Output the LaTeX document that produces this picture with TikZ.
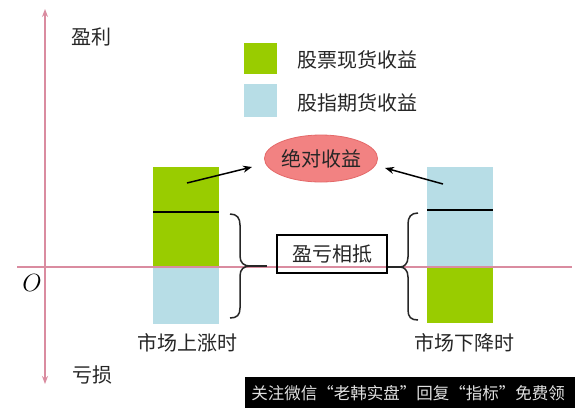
\documentclass[tikz,border=0pt]{standalone}
\usepackage{fontspec}
\newfontfamily\cjk{Noto Sans CJK SC}
\usetikzlibrary{arrows.meta,shapes.geometric}
\definecolor{bargreen}{RGB}{153,204,0}
\definecolor{barblue}{RGB}{183,221,230}
\definecolor{axispink}{RGB}{218,140,160}
\definecolor{ellfill}{RGB}{242,130,130}
\definecolor{elldraw}{RGB}{228,105,105}
\tikzset{
  lbl/.style={font=\cjk\fontsize{20}{22}\selectfont, inner sep=0pt, text=black!85},
  axisline/.style={draw=axispink, line width=1.4pt},
  pointer/.style={draw=black, line width=1.5pt, -{Stealth[length=9pt,width=7pt]}},
  bracestyle/.style={draw=black!85, line width=1.5pt},
  barline/.style={draw=black, line width=1.6pt},
}
\begin{document}
\begin{tikzpicture}[x=1pt,y=-1pt]
\useasboundingbox (0,0) rectangle (575,408);
\fill[white] (0,0) rectangle (575,408);

% bars
\fill[bargreen] (153,167) rectangle (219,267);
\fill[barblue]  (153,267) rectangle (219,324);
\draw[barline]  (153,212) -- (219,212);
\fill[barblue]  (427,167) rectangle (493,267);
\fill[bargreen] (427,267) rectangle (493,323);
\draw[barline]  (427,210) -- (493,210);

% axes
\coordinate (ytop) at (45,9);
\coordinate (ybot) at (45,384);
\coordinate (xl) at (17,267);
\coordinate (xr) at (572,267);
\draw[axisline, {Stealth[length=8pt,width=6pt]}-{Stealth[length=8pt,width=6pt]}] (ybot) -- (ytop);
\draw[axisline] (xl) -- (xr);

\node[lbl] (profit) at (91,37) {盈利};
\node[lbl] (loss) at (92,375) {亏损};
\node[font=\fontsize{24}{26}\selectfont, inner sep=0pt] (origin) at (32,283) {$O$};

% legend
\node[fill=bargreen, minimum width=33pt, minimum height=31pt, inner sep=0pt] (lg1) at (260.5,58.5) {};
\node[fill=barblue, minimum width=33pt, minimum height=33pt, inner sep=0pt] (lg2) at (260.5,100.5) {};
\node[lbl, anchor=west] (lt1) at (297,60) {股票现货收益};
\node[lbl, anchor=west] (lt2) at (297,103) {股指期货收益};

% ellipse
\node[ellipse, fill=ellfill, draw=elldraw, line width=0.8pt, minimum width=112pt, minimum height=47pt, inner sep=0pt, font=\cjk\fontsize{20}{22}\selectfont, text=black!85] (abs) at (321,158.5) {绝对收益};
\coordinate (la) at (187,183);
\coordinate (ra) at (443,184);
\draw[pointer] (la) -- (252,167) coordinate (laend);
\draw[pointer] (ra) -- (385,168) coordinate (raend);

% offset box
\node[lbl, draw=black, line width=1.4pt, minimum width=110pt, minimum height=38pt] (offset) at (332,254) {盈亏相抵};

% braces
\coordinate (lbtip) at (250,266);
\coordinate (rbtip) at (400,267);
\draw[bracestyle] (230,214) .. controls (237,214) and (240,218) .. (240,225) -- (240,256)
  .. controls (240,263) and (244,266) .. (lbtip)
  .. controls (244,266) and (240,269) .. (240,276) -- (240,308)
  .. controls (240,315) and (237,318) .. (230,318);
\draw[bracestyle] (418,213) .. controls (411,213) and (408,217) .. (408,224) -- (408,257)
  .. controls (408,264) and (404,267) .. (rbtip)
  .. controls (404,267) and (408,270) .. (408,277) -- (408,310)
  .. controls (408,317) and (411,320) .. (418,320);
\draw[bracestyle, shorten >=9pt] (lbtip) -- (offset.west |- lbtip);
\draw[bracestyle] (rbtip) -- (offset.east |- rbtip);

\node[lbl] (up) at (187,343) {市场上涨时};
\node[lbl] (down) at (464,343) {市场下降时};

% watermark
\fill[black] (245,377) rectangle (575,408);
\node[font=\cjk\fontsize{16.5}{18}\selectfont, text=white!88!black, inner sep=0pt] (wm) at (408,393) {关注微信“老韩实盘”回复“指标”免费领};
\end{tikzpicture}
\end{document}
